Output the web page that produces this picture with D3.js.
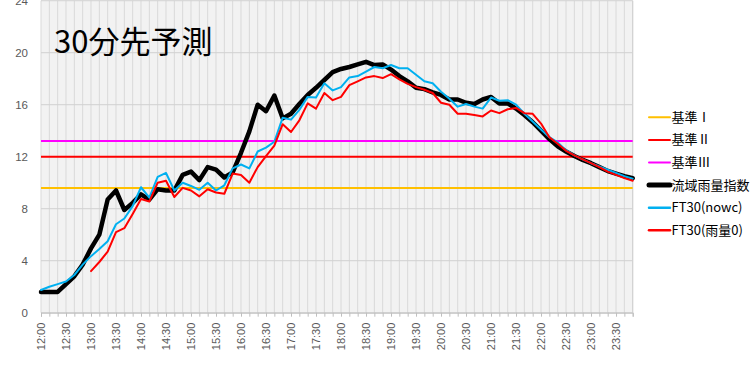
<!DOCTYPE html>
<html>
<head>
<meta charset="utf-8">
<script src="https://cdn.jsdelivr.net/npm/d3@7"></script>
<style>
  html, body { margin: 0; padding: 0; background: #fff; }
  svg { display: block; }
</style>
</head>
<body>
<svg id="chart" width="751" height="369"></svg>
<script>
// 10-minute time steps, 12:00 – 23:50
const times = [
  "12:00","12:10","12:20","12:30","12:40","12:50",
  "13:00","13:10","13:20","13:30","13:40","13:50",
  "14:00","14:10","14:20","14:30","14:40","14:50",
  "15:00","15:10","15:20","15:30","15:40","15:50",
  "16:00","16:10","16:20","16:30","16:40","16:50",
  "17:00","17:10","17:20","17:30","17:40","17:50",
  "18:00","18:10","18:20","18:30","18:40","18:50",
  "19:00","19:10","19:20","19:30","19:40","19:50",
  "20:00","20:10","20:20","20:30","20:40","20:50",
  "21:00","21:10","21:20","21:30","21:40","21:50",
  "22:00","22:10","22:20","22:30","22:40","22:50",
  "23:00","23:10","23:20","23:30","23:40","23:50"
];

// 流域雨量指数 (observed)
const basinIndex = [
  1.6, 1.6, 1.6, 2.2, 2.8, 3.7, 4.95, 6.0, 8.7, 9.4, 7.9, 8.45,
  9.1, 8.7, 9.5, 9.4, 9.4, 10.6, 10.85, 10.2, 11.2, 11.0, 10.4, 10.8,
  12.3, 13.95, 16.0, 15.5, 16.7, 14.95, 15.3, 16.05, 16.75, 17.3, 17.9, 18.5,
  18.75, 18.9, 19.1, 19.3, 19.05, 19.1, 18.7, 18.2, 17.8, 17.3, 17.2, 16.95,
  16.75, 16.4, 16.4, 16.15, 16.05, 16.4, 16.6, 16.1, 16.1, 15.7, 15.2, 14.65,
  14.0, 13.35, 12.8, 12.4, 12.05, 11.75, 11.5, 11.2, 10.9, 10.7, 10.5, 10.35
];

// FT30(nowc)
const ft30Nowc = [
  1.75, 2.0, 2.2, 2.4, 2.9, 3.7, 4.35, 4.9, 5.5, 6.8, 7.25, 8.2,
  9.65, 8.85, 10.45, 10.75, 9.4, 10.0, 9.75, 9.45, 10.0, 9.4, 9.8, 11.1,
  11.4, 11.1, 12.4, 12.7, 13.15, 15.0, 14.85, 15.6, 16.6, 16.55, 17.65, 17.1,
  17.35, 18.1, 18.2, 18.55, 18.9, 18.8, 19.05, 18.8, 18.8, 18.3, 17.8, 17.65,
  17.0, 16.45, 15.85, 16.05, 15.85, 15.7, 16.55, 16.3, 16.35, 16.0, 15.3, 14.7,
  14.1, 13.5, 13.1, 12.5, 12.1, 11.8, 11.5, 11.25, 11.0, 10.75, 10.5, 10.3
];

// FT30(雨量0) — starts at 13:00
const ft30Zero = [
  null, null, null, null, null, null, 3.2, 3.9, 4.7, 6.2, 6.5, 7.6,
  8.75, 8.55, 10.0, 10.15, 8.9, 9.6, 9.4, 8.95, 9.5, 9.25, 9.15, 10.7,
  10.6, 10.0, 11.2, 12.05, 12.85, 14.5, 13.9, 14.8, 16.1, 15.7, 16.9, 16.35,
  16.6, 17.5, 17.8, 18.1, 18.2, 18.05, 18.35, 17.95, 17.6, 17.35, 17.15, 16.9,
  16.15, 16.0, 15.3, 15.3, 15.2, 15.1, 15.55, 15.35, 15.65, 15.75, 15.35, 15.3,
  14.55, 13.5, 13.0, 12.45, 12.1, 11.8, 11.5, 11.2, 10.85, 10.6, 10.35, 10.15
];

// threshold levels
const thresholdNames  = ["基準Ⅰ", "基準Ⅱ", "基準Ⅲ"];
const thresholdValues = [9.6, 12, 13.2];

const yTicks = [0, 4, 8, 12, 16, 20, 24];
const xTickLabels = times.filter((t, i) => i % 3 === 0);

const thresholdColors = ["#FFC000", "#FF0000", "#FF00FF"];

const svg = d3.select("#chart");
const plot = { left: 41, right: 632.7, top: 0.7, bottom: 312.7 };

const x = d3.scalePoint().domain(times).range([plot.left, plot.right]);
const y = d3.scaleLinear().domain([0, 24]).range([plot.bottom, plot.top]);

// plot background
svg.append("rect")
  .attr("x", plot.left).attr("y", plot.top)
  .attr("width", plot.right - plot.left).attr("height", plot.bottom - plot.top)
  .attr("fill", "#f2f2f2");

// vertical gridlines, one per time step
svg.append("g")
  .selectAll("line").data(times).join("line")
  .attr("x1", d => x(d)).attr("x2", d => x(d))
  .attr("y1", plot.top).attr("y2", plot.bottom)
  .attr("stroke", "#d9d9d9").attr("stroke-width", 1);

// horizontal gridlines
svg.append("g")
  .selectAll("line").data(yTicks).join("line")
  .attr("x1", plot.left).attr("x2", plot.right)
  .attr("y1", d => y(d)).attr("y2", d => y(d))
  .attr("stroke", "#d0d0d0").attr("stroke-width", 1);

// right edge of plot area
svg.append("line")
  .attr("x1", plot.right).attr("x2", plot.right)
  .attr("y1", plot.top).attr("y2", plot.bottom)
  .attr("stroke", "#d0d0d0");

// y axis labels
const yAxis = d3.axisLeft(y).tickValues(yTicks).tickSize(0).tickPadding(13);
svg.append("g")
  .attr("transform", `translate(${plot.left},0)`)
  .call(yAxis)
  .call(g => g.select(".domain").remove())
  .call(g => g.selectAll("text")
    .attr("font-family", "'Liberation Sans', Arial, sans-serif")
    .attr("font-size", 11.5)
    .attr("fill", "#595959"));

// x axis: tick marks at every step, labels every 30 minutes
const xAxis = d3.axisBottom(x).tickSize(4).tickFormat(() => "");
svg.append("g")
  .attr("transform", `translate(0,${plot.bottom})`)
  .call(xAxis)
  .call(g => g.select(".domain").attr("stroke", "#bfbfbf"))
  .call(g => g.selectAll(".tick line").attr("stroke", "#bfbfbf"));

svg.append("g")
  .selectAll("text").data(xTickLabels).join("text")
  .attr("transform", d => `translate(${x(d)},${plot.bottom + 10}) rotate(-90)`)
  .attr("text-anchor", "end")
  .attr("dy", "0.35em")
  .attr("font-family", "'Liberation Sans', Arial, sans-serif")
  .attr("font-size", 11)
  .attr("fill", "#595959")
  .text(d => d);

// threshold lines
svg.append("g")
  .selectAll("line").data(thresholdValues).join("line")
  .attr("x1", plot.left).attr("x2", plot.right)
  .attr("y1", d => y(d)).attr("y2", d => y(d))
  .attr("stroke", (d, i) => thresholdColors[i])
  .attr("stroke-width", 2);

const line = d3.line()
  .defined(d => d != null)
  .x((d, i) => x(times[i]))
  .y(d => y(d));

const series = [
  { name: "流域雨量指数", values: basinIndex, color: "#000000", width: 4.5 },
  { name: "FT30(nowc)",  values: ft30Nowc,   color: "#00B0F0", width: 2 },
  { name: "FT30(雨量0)", values: ft30Zero,   color: "#FF0000", width: 2 }
];

svg.append("g")
  .selectAll("path").data(series).join("path")
  .attr("d", d => line(d.values))
  .attr("fill", "none")
  .attr("stroke", d => d.color)
  .attr("stroke-width", d => d.width)
  .attr("stroke-linejoin", "round")
  .attr("stroke-linecap", "round");

// title
svg.append("text")
  .attr("x", 54).attr("y", 53)
  .attr("font-family", "'Noto Sans CJK JP', sans-serif")
  .attr("font-size", 31)
  .attr("fill", "#000")
  .text("30分先予測");

// legend
const legendItems = [
  ...thresholdNames.map((n, i) => ({ name: n, color: thresholdColors[i], width: 2 })),
  ...series.map(s => ({ name: s.name, color: s.color, width: s.width + 0.5 }))
];
const legend = svg.append("g").attr("transform", "translate(649,117.3)");
const item = legend.selectAll("g").data(legendItems).join("g")
  .attr("transform", (d, i) => `translate(0,${i * 22.6})`);
item.append("line")
  .attr("x1", 0).attr("x2", 21)
  .attr("stroke", d => d.color)
  .attr("stroke-width", d => d.width)
  .attr("stroke-linecap", "round");
item.append("text")
  .attr("x", 22.5).attr("dy", "0.35em")
  .attr("font-family", "'Noto Sans CJK JP', sans-serif")
  .attr("font-size", 13)
  .attr("fill", "#000")
  .text(d => d.name);
</script>
</body>
</html>
